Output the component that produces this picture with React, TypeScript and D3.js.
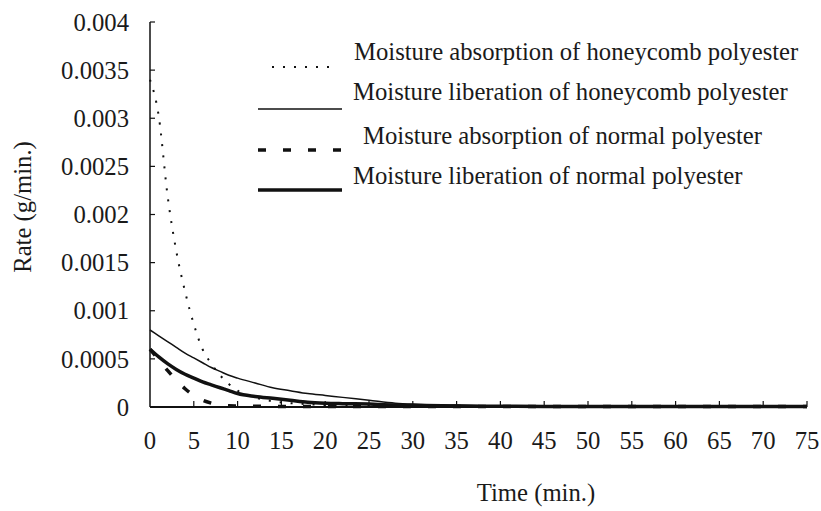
import React from "react";
import * as d3 from "d3";

const times = [0, 1, 2, 3, 4, 5, 6, 7, 8, 9, 10, 12, 14, 16, 18, 20, 22, 25, 28, 30, 35, 40, 45, 50, 55, 60, 65, 70, 75];
const absorptionHoneycomb = [0.0034, 0.00302, 0.0022, 0.00162, 0.0012, 0.00086, 0.0006, 0.00045, 0.00033, 0.00024, 0.00017, 0.0001, 0.00006, 0.00004, 0.00003, 0.00002, 0.000015, 0.00001, 0.00001, 0.00001, 0.00001, 0.00001, 0.00001, 0.00001, 0.00001, 0.00001, 0.00001, 0.00001, 0.00001];
const liberationHoneycomb = [0.0008, 0.00074, 0.00068, 0.00062, 0.00056, 0.00051, 0.00046, 0.00041, 0.00037, 0.00033, 0.0003, 0.00025, 0.0002, 0.00017, 0.00014, 0.00012, 0.0001, 0.00007, 0.00004, 0.00003, 0.00002, 0.00001, 0.000008, 0.000006, 0.000005, 0.000005, 0.000005, 0.000005, 0.000005];
const absorptionNormal = [0.0006, 0.00049, 0.00038, 0.00028, 0.00019, 0.00012, 0.00007, 0.00004, 0.00002, 0.000012, 0.00001, 0.000008, 0.000006, 0.000005, 0.000005, 0.000005, 0.000005, 0.000005, 0.000005, 0.000005, 0.000005, 0.000005, 0.000005, 0.000005, 0.000005, 0.000005, 0.000005, 0.000005, 0.000005];
const liberationNormal = [0.0006, 0.00052, 0.00045, 0.00039, 0.00034, 0.0003, 0.00026, 0.00023, 0.0002, 0.00017, 0.00014, 0.00011, 0.00009, 0.00007, 0.00005, 0.00004, 0.000035, 0.00003, 0.00002, 0.000015, 0.00001, 0.000008, 0.000006, 0.000005, 0.000005, 0.000005, 0.000005, 0.000005, 0.000005];

const yTicks = [0, 0.0005, 0.001, 0.0015, 0.002, 0.0025, 0.003, 0.0035, 0.004];
const yTickLabels = ["0", "0.0005", "0.001", "0.0015", "0.002", "0.0025", "0.003", "0.0035", "0.004"];
const xTicks = [0, 5, 10, 15, 20, 25, 30, 35, 40, 45, 50, 55, 60, 65, 70, 75];

const seriesNames = [
  "Moisture absorption of honeycomb polyester",
  "Moisture liberation of honeycomb polyester",
  "Moisture absorption of normal polyester",
  "Moisture liberation of normal polyester",
];

const styles = [
  { width: 2, dash: "2 9" },
  { width: 1.5, dash: "" },
  { width: 3.5, dash: "8 17" },
  { width: 3.5, dash: "" },
];

const legendY = [67, 109, 150, 190];
const legendTextY = [51, 91, 135, 175];
const legendTextX = [354, 353, 363, 353];
const legendLineX = [[272, 338], [258, 342], [258, 342], [258, 342]];

export default function App() {
  const W = 821, H = 511;
  const FS = 24.7;
  const x = d3.scaleLinear().domain([0, 75]).range([150, 807]);
  const y = d3.scaleLinear().domain([0, 0.004]).range([407, 22]);
  const font = "'Liberation Serif', 'Times New Roman', serif";
  const seriesData = [absorptionHoneycomb, liberationHoneycomb, absorptionNormal, liberationNormal];
  const line = d3
    .line<number>()
    .x((_, i) => x(times[i]))
    .y((d) => y(d))
    .curve(d3.curveMonotoneX);
  const color = "#111";
  return (
    <svg width={W} height={H} style={{ position: "absolute", left: 0, top: 0, background: "#fff" }}>
      <rect x={0} y={0} width={W} height={H} fill="#fff" />
      <line x1={x(0)} x2={x(0)} y1={y(0.004)} y2={y(0)} stroke={color} strokeWidth={1.5} />
      <line x1={x(0)} x2={x(75)} y1={y(0)} y2={y(0)} stroke={color} strokeWidth={2} />
      {yTicks.map((t, i) => (
        <g key={"yt" + i}>
          <line x1={x(0)} x2={x(0) + 5} y1={y(t)} y2={y(t)} stroke={color} strokeWidth={1.2} />
          <text x={129} y={y(t)} dy="0.35em" textAnchor="end" fontFamily={font} fontSize={FS} fill="#1a1a1a">
            {yTickLabels[i]}
          </text>
        </g>
      ))}
      {xTicks.map((t, i) => (
        <g key={"xt" + i}>
          {t > 0 && <line x1={x(t)} x2={x(t)} y1={y(0)} y2={y(0) - 6} stroke={color} strokeWidth={1.2} />}
          <text x={x(t)} y={440} dy="0.35em" textAnchor="middle" fontFamily={font} fontSize={FS} fill="#1a1a1a">
            {t}
          </text>
        </g>
      ))}
      <text x={536} y={492} dy="0.35em" textAnchor="middle" fontFamily={font} fontSize={FS} fill="#1a1a1a">
        Time (min.)
      </text>
      <text
        transform={`translate(22,207) rotate(-90)`}
        dy="0.35em"
        textAnchor="middle"
        fontFamily={font}
        fontSize={FS}
        fill="#1a1a1a"
      >
        Rate (g/min.)
      </text>
      {seriesData.map((d, i) => (
        <path
          key={"s" + i}
          d={line(d) || ""}
          fill="none"
          stroke={color}
          strokeWidth={styles[i].width}
          strokeDasharray={styles[i].dash}
        />
      ))}
      {seriesNames.map((n, i) => (
        <g key={"lg" + i}>
          <line
            x1={legendLineX[i][0]}
            x2={legendLineX[i][1]}
            y1={legendY[i]}
            y2={legendY[i]}
            stroke={color}
            strokeWidth={styles[i].width}
            strokeDasharray={styles[i].dash}
          />
          <text x={legendTextX[i]} y={legendTextY[i]} dy="0.35em" fontFamily={font} fontSize={FS} fill="#1a1a1a">
            {n}
          </text>
        </g>
      ))}
    </svg>
  );
}
